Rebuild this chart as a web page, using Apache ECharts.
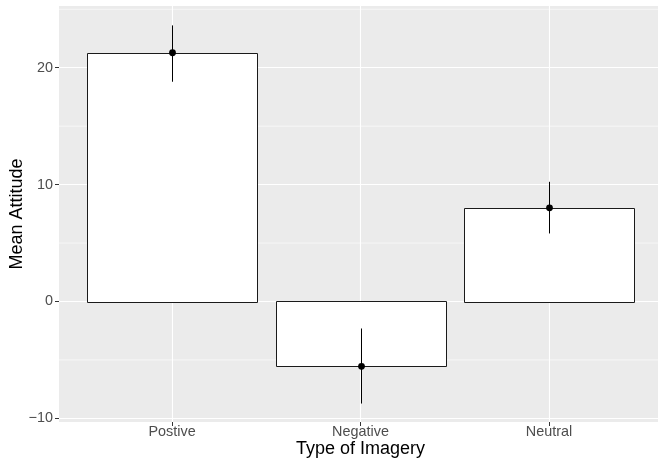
<!DOCTYPE html>
<html>
<head>
<meta charset="utf-8">
<script src="https://cdn.jsdelivr.net/npm/echarts@6/dist/echarts.min.js"></script>
<style>
html,body{margin:0;padding:0;background:#fff;}
#chart{width:658px;height:460px;}
</style>
</head>
<body>
<div id="chart"></div>
<script>
var categories = ['Postive', 'Negative', 'Neutral'];
var means = [21.28, -5.55, 8.01];
var errLow = [18.8, -8.73, 5.82];
var errHigh = [23.62, -2.31, 10.24];
var yMajorTicks = [-10, 0, 10, 20];
var yMinorGrid = [-5, 5, 15, 25];
var xPositions = [1, 2, 3];

var markData = categories.map(function (c, i) {
  return [xPositions[i], means[i], errLow[i], errHigh[i]];
});

var chart = echarts.init(document.getElementById('chart'), null, {renderer: 'canvas'});
var fontFam = '"Liberation Sans", Arial, Helvetica, sans-serif';

var option = {
  animation: false,
  backgroundColor: '#ffffff',
  grid: {
    left: 59, right: -4, top: 6, bottom: 38,
    outerBoundsMode: 'none',
    containLabel: false,
    show: true, backgroundColor: '#EBEBEB', borderWidth: 0
  },
  xAxis: {
    type: 'value', min: 0.4, max: 3.6,
    name: 'Type of Imagery', nameLocation: 'middle', nameGap: 18, nameMoveOverlap: false,
    nameTextStyle: {color: '#000', fontSize: 18, fontFamily: fontFam},
    axisLine: {show: false, onZero: false},
    axisTick: {show: true, customValues: xPositions, length: 4, lineStyle: {color: '#333333', width: 1}},
    axisLabel: {
      customValues: xPositions, margin: 3, color: '#4D4D4D', fontSize: 14.4, fontFamily: fontFam,
      formatter: function (v) { var i = xPositions.indexOf(Math.round(v)); return i >= 0 ? categories[i] : ''; }
    },
    splitLine: {show: true, lineStyle: {color: '#ffffff', width: 1.1}}
  },
  yAxis: {
    type: 'value', min: -10.31, max: 25.28,
    name: 'Mean Attitude', nameLocation: 'middle', nameGap: 33, nameMoveOverlap: false,
    nameTextStyle: {color: '#000', fontSize: 18, fontFamily: fontFam},
    axisLine: {show: false, onZero: false},
    axisTick: {show: true, customValues: yMajorTicks, length: 4, lineStyle: {color: '#333333', width: 1}},
    axisLabel: {
      customValues: yMajorTicks, margin: 6, color: '#4D4D4D', fontSize: 14.4, fontFamily: fontFam,
      formatter: function (v) { return v < 0 ? '\u2212' + Math.abs(v) : String(v); }
    },
    splitLine: {show: true, lineStyle: {color: '#ffffff', width: 1.1}}
  },
  series: [
    {
      type: 'custom',
      name: 'minorGrid',
      data: yMinorGrid.map(function (v) { return [0.4, v]; }),
      silent: true,
      z: 1,
      renderItem: function (params, api) {
        var y = api.coord([0.4, api.value(1)])[1];
        var cs = params.coordSys;
        return {
          type: 'line',
          shape: {x1: cs.x, y1: y, x2: cs.x + cs.width, y2: y},
          style: {stroke: '#ffffff', lineWidth: 0.6}
        };
      },
      encode: {x: 0, y: 1}
    },
    {
      type: 'custom',
      name: 'bars',
      data: markData,
      z: 2,
      renderItem: function (params, api) {
        var x = api.value(0), v = api.value(1);
        var p1 = api.coord([x - 0.45, v]);
        var p2 = api.coord([x + 0.45, 0]);
        var top = Math.min(p1[1], p2[1]), h = Math.abs(p2[1] - p1[1]);
        var lo = api.coord([x, api.value(2)]);
        var hi = api.coord([x, api.value(3)]);
        var mid = api.coord([x, v]);
        var px = Math.round(lo[0]) + 0.5;
        return {
          type: 'group',
          children: [
            {
              type: 'rect',
              shape: {x: Math.round(p1[0]) + 0.5, y: Math.round(top) + 0.5, width: Math.round(p2[0] - p1[0]), height: Math.round(h)},
              style: {fill: '#ffffff', stroke: '#1a1a1a', lineWidth: 1}
            },
            {
              type: 'line',
              shape: {x1: px, y1: lo[1], x2: px, y2: hi[1]},
              style: {stroke: '#000000', lineWidth: 1, fill: null}
            },
            {
              type: 'circle',
              shape: {cx: px, cy: mid[1], r: 3.4},
              style: {fill: '#000000', stroke: null}
            }
          ]
        };
      },
      encode: {x: 0, y: [1, 2, 3]}
    }
  ]
};
chart.setOption(option);
</script>
</body>
</html>
